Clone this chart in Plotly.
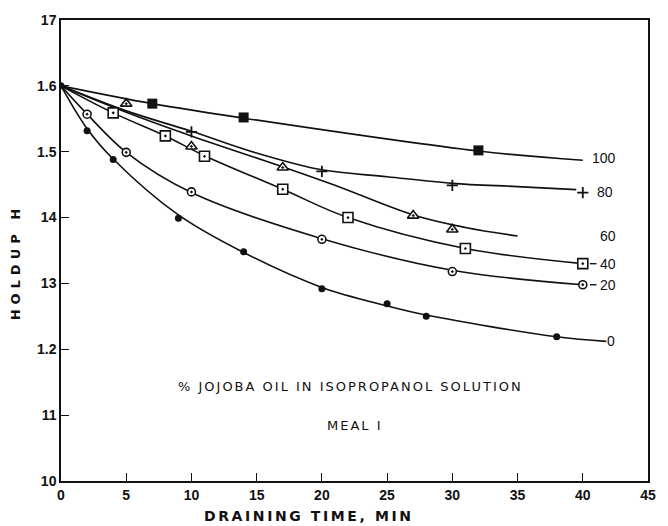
import plotly.graph_objects as go

# ---- measured points (draining time, min ; holdup H) ----
t0 = [0, 2, 4, 9, 14, 20, 25, 28, 38]
h0 = [1.600, 1.532, 1.488, 1.399, 1.348, 1.292, 1.269, 1.250, 1.219]
t20 = [2, 5, 10, 20, 30, 40]
h20 = [1.557, 1.499, 1.439, 1.367, 1.318, 1.298]
t40 = [4, 8, 11, 17, 22, 31, 40]
h40 = [1.559, 1.524, 1.493, 1.443, 1.400, 1.353, 1.330]
t60 = [5, 10, 17, 27, 30]
h60 = [1.573, 1.508, 1.476, 1.403, 1.382]
t80 = [10, 20, 30, 40]
h80 = [1.530, 1.470, 1.449, 1.438]
t100 = [7, 14, 32]
h100 = [1.573, 1.552, 1.502]

# ---- fitted curves ----
ct0 = [0, 2, 4, 9, 14, 20, 25, 28, 38, 41.8]
ch0 = [1.600, 1.535, 1.489, 1.404, 1.347, 1.294, 1.266, 1.252, 1.219, 1.212]
ct20 = [0, 2, 5, 10, 20, 30, 40]
ch20 = [1.600, 1.557, 1.499, 1.438, 1.368, 1.320, 1.298]
ct40 = [0, 4, 8, 11, 17, 22, 31, 40]
ch40 = [1.600, 1.559, 1.524, 1.494, 1.443, 1.400, 1.353, 1.330]
ct60 = [0, 5, 10, 17, 21, 27, 31, 35]
ch60 = [1.600, 1.560, 1.524, 1.477, 1.449, 1.404, 1.385, 1.372]
ct80 = [0, 5, 10, 15, 20, 25, 30, 35, 39.5]
ch80 = [1.600, 1.562, 1.531, 1.498, 1.4725, 1.462, 1.452, 1.447, 1.4425]
ct100 = [0, 7, 14, 32, 40]
ch100 = [1.600, 1.573, 1.551, 1.501, 1.487]

series_labels = ["0", "20", "40", "60", "80", "100"]
x_ticks = [0, 5, 10, 15, 20, 25, 30, 35, 40, 45]
y_ticks = [1.0, 1.1, 1.2, 1.3, 1.4, 1.5, 1.6, 1.7]
y_ticktext = ["10", "11", "1.2", "13", "14", "1.5", "1.6", "17"]

BLACK = "#111111"
fig = go.Figure()

curves = [(ct0, ch0), (ct20, ch20), (ct40, ch40), (ct60, ch60), (ct80, ch80), (ct100, ch100)]
for (ct, ch), lab in zip(curves, series_labels):
    fig.add_trace(go.Scatter(x=ct, y=ch, mode="lines", name=lab + " %",
                             line=dict(color=BLACK, width=1.6, shape="spline", smoothing=1.0),
                             showlegend=False, hoverinfo="skip"))

marks = [
    (t0, h0, dict(symbol="circle", size=7, color=BLACK, line=dict(width=0))),
    (t20, h20, dict(symbol="circle-dot", size=8, color="white", line=dict(color=BLACK, width=1.6))),
    (t40, h40, dict(symbol="square-dot", size=10, color="white", line=dict(color=BLACK, width=1.6))),
    (t60, h60, dict(symbol="triangle-up-dot", size=10, color="white", line=dict(color=BLACK, width=1.6))),
    (t80, h80, dict(symbol="cross-thin-open", size=8, color=BLACK, line=dict(color=BLACK, width=1.8))),
    (t100, h100, dict(symbol="square", size=10, color=BLACK, line=dict(width=0))),
]
for (tx, hy, mk), lab in zip(marks, series_labels):
    fig.add_trace(go.Scatter(x=tx, y=hy, mode="markers", name=lab + " %",
                             marker=mk, showlegend=False))

# right-hand curve labels
lab_pos = {"100": (41.6, 1.490), "80": (41.7, 1.4385), "60": (41.9, 1.372),
           "40": (41.9, 1.330), "20": (41.9, 1.298), "0": (42.2, 1.212)}
annots = []
for lab in series_labels:
    x, y = lab_pos[lab]
    annots.append(dict(x=x, y=y, xref="x", yref="y", text=lab, showarrow=False,
                       xanchor="center",
                       font=dict(family="Liberation Sans", size=14, color=BLACK)))
for yy in (1.330, 1.298):
    fig.add_shape(type="line", x0=40.55, x1=41.05, y0=yy, y1=yy, xref="x", yref="y",
                  line=dict(color=BLACK, width=1.4))

annots.append(dict(x=22.2, y=1.144, xref="x", yref="y", showarrow=False, xanchor="center",
                   text='<span style="letter-spacing:2px">% JOJOBA OIL IN ISOPROPANOL SOLUTION</span>',
                   font=dict(family="DejaVu Sans", size=13, color=BLACK)))
annots.append(dict(x=22.5, y=1.084, xref="x", yref="y", showarrow=False, xanchor="center",
                   text='<span style="letter-spacing:2px">MEAL I</span>',
                   font=dict(family="DejaVu Sans", size=13, color=BLACK)))
annots.append(dict(x=0.422, y=-0.076, xref="paper", yref="paper", showarrow=False,
                   xanchor="center", yanchor="middle",
                   text='<span style="letter-spacing:2.6px">DRAINING TIME, MIN</span>',
                   font=dict(family="DejaVu Sans", size=14, color=BLACK, weight="bold")))
annots.append(dict(x=-0.077, y=0.476, xref="paper", yref="paper", showarrow=False,
                   xanchor="center", yanchor="middle", textangle=-90,
                   text='<span style="letter-spacing:5px">HOLDUP H</span>',
                   font=dict(family="DejaVu Sans", size=13, color=BLACK, weight="bold")))

fig.update_layout(
    width=668, height=526,
    margin=dict(l=61, r=12, t=17, b=45),
    paper_bgcolor="white", plot_bgcolor="white",
    annotations=annots,
    showlegend=False,
)
fig.update_xaxes(range=[0, 45], tickvals=x_ticks, ticks="inside", ticklen=8, tickwidth=1.2,
                 tickcolor=BLACK, showline=True, linecolor=BLACK, linewidth=1.5, mirror=True,
                 showgrid=False, zeroline=False,
                 tickfont=dict(family="Liberation Sans", size=14, color=BLACK, weight="bold"))
fig.update_yaxes(range=[1.0, 1.7], tickvals=y_ticks, ticktext=y_ticktext, ticks="inside",
                 ticklen=8, tickwidth=1.2, tickcolor=BLACK, showline=True, linecolor=BLACK,
                 linewidth=1.5, mirror=True, showgrid=False, zeroline=False,
                 tickfont=dict(family="Liberation Sans", size=14, color=BLACK, weight="bold"))

fig.write_html("out.html", config={"displayModeBar": False},
               post_script="document.body.style.margin='0';document.body.style.overflow='hidden';")
